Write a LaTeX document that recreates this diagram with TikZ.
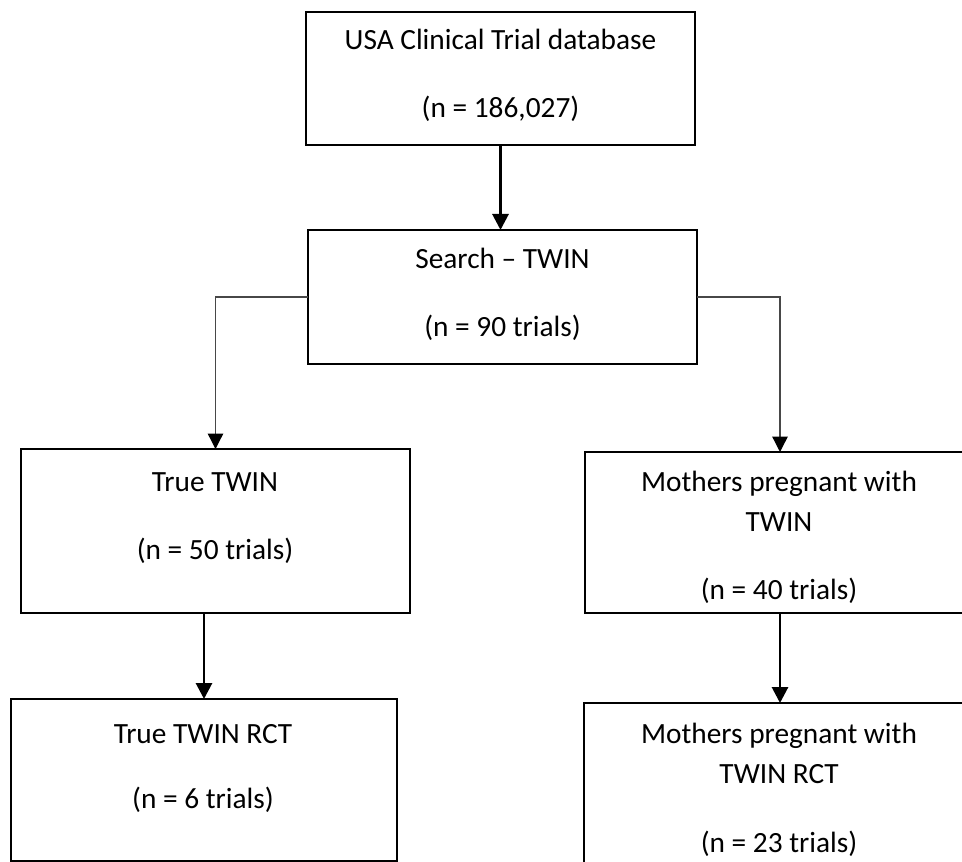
\documentclass[tikz,border=0pt]{standalone}
\usepackage{fontspec}
\setmainfont{Carlito}
\usetikzlibrary{arrows.meta}
\begin{document}
\begin{tikzpicture}[x=0.75pt,y=-0.75pt,
  boxnode/.style={draw=black,line width=1.9pt,rectangle,inner sep=0pt,outer sep=0pt,fill=white},
  txt/.style={anchor=base,inner sep=0pt,font=\fontsize{22}{26}\selectfont},
  thickarrow/.style={line width=2.2pt,-{Triangle[length=12pt,width=12pt]}},
  thinarrow/.style={line width=1pt,draw=black!72,-{Triangle[length=11.5pt,width=11.5pt,color=black]}}]
\useasboundingbox (0,0) rectangle (962,862);
\clip (0,0) rectangle (962,862);
% boxes
\node[boxnode,minimum width=291.75pt,minimum height=99.75pt] (b1) at (500.5,78.5) {};
\node[boxnode,minimum width=291.75pt,minimum height=100.5pt] (b2) at (502.5,297) {};
\node[boxnode,minimum width=291.75pt,minimum height=123pt] (b3) at (215.5,531) {};
\node[boxnode,minimum width=292.5pt,minimum height=120.75pt] (b4) at (780,532.5) {};
\node[boxnode,minimum width=289.5pt,minimum height=121.5pt] (b5) at (204,780) {};
\node[boxnode,minimum width=293.25pt,minimum height=127.5pt] (b6) at (779.5,788) {};
% texts
\node[txt] (t1a) at (500.5,50) {USA Clinical Trial database};
\node[txt] (t1b) at (500.5,118) {(n = 186,027)};
\node[txt] (t2a) at (502.5,269) {Search – TWIN};
\node[txt] (t2b) at (502.5,337) {(n = 90 trials)};
\node[txt] (t3a) at (215,491) {True TWIN};
\node[txt] (t3b) at (215,559) {(n = 50 trials)};
\node[txt] (t4a) at (779,491) {Mothers pregnant with};
\node[txt] (t4b) at (779,531) {TWIN};
\node[txt] (t4c) at (779,599) {(n = 40 trials)};
\node[txt] (t5a) at (203,743) {True TWIN RCT};
\node[txt] (t5b) at (203,808) {(n = 6 trials)};
\node[txt] (t6a) at (779,743) {Mothers pregnant with};
\node[txt] (t6b) at (779,783) {TWIN RCT};
\node[txt] (t6c) at (779,852) {(n = 23 trials)};
% connectors
\draw[thickarrow] (b1.south) -- (b1.south |- b2.north);
\draw[thinarrow] (b2.west) -| (b3.north);
\draw[thinarrow] (b2.east) -| (b4.north);
\draw[thickarrow] (b5.north |- b3.south) -- (b5.north);
\draw[thickarrow] (b4.south) -- (b4.south |- b6.north);
\end{tikzpicture}
\end{document}
